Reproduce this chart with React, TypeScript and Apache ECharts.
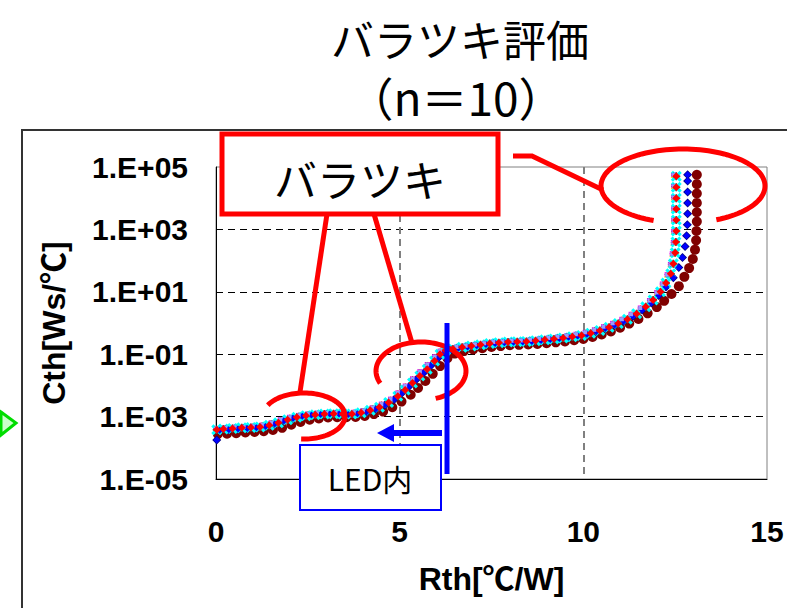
import React, { useEffect, useRef } from 'react';
import * as echarts from 'echarts';

// ---- Data ----
// Each point: [Rth (°C/W), exponent of Cth (log10 of Ws/°C)]
const xTickValues = [0, 5, 10, 15];
const yTickExponents = [-5, -3, -1, 1, 3, 5];
const seriesNames = ['No.1', 'No.2', 'No.3', 'No.4', 'No.5', 'No.6', 'No.7', 'No.8', 'No.9', 'No.10'];

const redPts: [number, number][] = [
  [0.02, -3.42], [0.2, -3.4], [0.45, -3.38], [0.7, -3.36], [0.95, -3.35], [1.2, -3.33], [1.45, -3.28],
  [1.7, -3.2], [1.95, -3.1], [2.2, -3.02], [2.45, -2.97], [2.7, -2.94], [2.95, -2.92], [3.2, -2.91],
  [3.45, -2.92], [3.7, -2.92], [3.95, -2.88], [4.2, -2.8], [4.45, -2.7], [4.7, -2.55], [4.95, -2.35],
  [5.15, -2.15], [5.35, -1.92], [5.55, -1.7], [5.75, -1.48], [5.95, -1.22], [6.1, -1.0], [6.25, -0.88],
  [6.45, -0.83], [6.7, -0.78], [6.95, -0.74], [7.2, -0.7], [7.45, -0.66], [7.7, -0.63], [7.95, -0.61],
  [8.2, -0.6], [8.45, -0.59], [8.7, -0.57], [8.95, -0.54], [9.2, -0.51], [9.45, -0.48], [9.7, -0.44],
  [9.95, -0.4], [10.2, -0.33], [10.45, -0.24], [10.7, -0.14], [10.95, -0.02], [11.2, 0.12], [11.45, 0.3],
  [11.7, 0.52], [11.9, 0.74], [12.1, 1.0], [12.25, 1.28], [12.38, 1.58], [12.45, 1.9], [12.5, 2.25],
  [12.52, 2.6], [12.53, 2.95], [12.53, 3.3], [12.53, 3.65], [12.53, 4.0], [12.53, 4.35], [12.53, 4.7],
];

const upperPts: [number, number][] = [
  [0.0, -3.38], [0.25, -3.36], [0.5, -3.34], [0.75, -3.33], [1.0, -3.31], [1.25, -3.27], [1.5, -3.2],
  [1.75, -3.1], [2.0, -3.02], [2.25, -2.96], [2.5, -2.92], [2.75, -2.89], [3.0, -2.88], [3.25, -2.88],
  [3.5, -2.88], [3.75, -2.86], [4.0, -2.81], [4.25, -2.72], [4.5, -2.6], [4.75, -2.44], [4.95, -2.24],
  [5.15, -2.02], [5.35, -1.79], [5.55, -1.56], [5.75, -1.33], [5.95, -1.08], [6.1, -0.9], [6.3, -0.82],
  [6.55, -0.77], [6.8, -0.73], [7.05, -0.69], [7.3, -0.65], [7.55, -0.61], [7.8, -0.59], [8.05, -0.57],
  [8.3, -0.56], [8.55, -0.54], [8.8, -0.51], [9.05, -0.48], [9.3, -0.45], [9.55, -0.41], [9.8, -0.36],
  [10.05, -0.3], [10.3, -0.22], [10.55, -0.12], [10.8, -0.01], [11.05, 0.12], [11.3, 0.28], [11.55, 0.48],
  [11.8, 0.72], [12.0, 0.98], [12.15, 1.25], [12.28, 1.55], [12.37, 1.88], [12.42, 2.22], [12.45, 2.58],
  [12.46, 2.94], [12.46, 3.3], [12.46, 3.66], [12.46, 4.02], [12.46, 4.38], [12.46, 4.74],
];

const navyPts: [number, number][] = [
  [0.02, -3.75], [0.1, -3.44], [0.35, -3.42], [0.6, -3.4], [0.85, -3.38], [1.1, -3.36], [1.35, -3.32],
  [1.6, -3.24], [1.85, -3.14], [2.1, -3.05], [2.35, -2.99], [2.6, -2.95], [2.85, -2.93], [3.1, -2.92],
  [3.35, -2.92], [3.6, -2.93], [3.85, -2.91], [4.1, -2.85], [4.35, -2.76], [4.6, -2.63], [4.85, -2.45],
  [5.05, -2.26], [5.25, -2.04], [5.45, -1.82], [5.65, -1.6], [5.85, -1.37], [6.05, -1.12], [6.2, -0.95],
  [6.4, -0.86], [6.6, -0.81], [6.85, -0.77], [7.1, -0.73], [7.35, -0.69], [7.6, -0.66], [7.85, -0.63],
  [8.1, -0.62], [8.35, -0.61], [8.6, -0.59], [8.85, -0.56], [9.1, -0.53], [9.35, -0.5], [9.6, -0.46],
  [9.85, -0.42], [10.1, -0.36], [10.35, -0.28], [10.6, -0.18], [10.85, -0.07], [11.1, 0.06], [11.35, 0.22],
  [11.6, 0.42], [11.85, 0.64], [12.05, 0.88], [12.25, 1.15], [12.45, 1.45], [12.6, 1.78], [12.7, 2.1],
  [12.77, 2.45], [12.81, 2.8], [12.83, 3.15], [12.84, 3.5], [12.84, 3.85], [12.84, 4.2], [12.84, 4.55],
  [12.84, 4.75],
];

const maroonPts: [number, number][] = [
  [0.05, -3.56], [0.3, -3.55], [0.55, -3.53], [0.8, -3.51], [1.05, -3.49], [1.3, -3.47], [1.55, -3.43],
  [1.8, -3.36], [2.05, -3.26], [2.3, -3.17], [2.55, -3.1], [2.8, -3.06], [3.05, -3.03], [3.3, -3.02],
  [3.55, -3.02], [3.8, -3.01], [4.05, -2.98], [4.3, -2.92], [4.55, -2.84], [4.8, -2.7], [5.05, -2.52],
  [5.3, -2.3], [5.5, -2.08], [5.7, -1.86], [5.9, -1.63], [6.1, -1.38], [6.3, -1.13], [6.5, -0.98],
  [6.75, -0.9], [7.0, -0.85], [7.25, -0.81], [7.5, -0.77], [7.75, -0.74], [8.0, -0.71], [8.25, -0.7],
  [8.5, -0.69], [8.75, -0.67], [9.0, -0.65], [9.25, -0.62], [9.5, -0.59], [9.75, -0.55], [10.0, -0.51],
  [10.25, -0.45], [10.5, -0.37], [10.75, -0.27], [11.0, -0.15], [11.25, -0.02], [11.5, 0.13], [11.75, 0.31],
  [12.0, 0.51], [12.2, 0.71], [12.4, 0.93], [12.6, 1.18], [12.75, 1.48], [12.88, 1.76], [12.98, 2.05],
  [13.04, 2.35], [13.07, 2.65], [13.08, 2.95], [13.09, 3.25], [13.09, 3.55], [13.09, 3.85], [13.09, 4.15],
  [13.09, 4.45], [13.09, 4.75],
];

// drawing order: first drawn lies at the bottom
const seriesData = [maroonPts, navyPts, upperPts, upperPts, redPts, upperPts, redPts, navyPts, upperPts, redPts];
const seriesColors = ['#800000', '#000080', '#FF00FF', '#FFFF00', '#00FFFF', '#800080', '#008080', '#0000FF', '#9999FF', '#FF0000'];

const SYM_X = 'path://M2,0L5,3L8,0L10,2L7,5L10,8L8,10L5,7L2,10L0,8L3,5L0,2Z';
const SYM_STAR = 'path://M4.2,0h1.6v3.6l2.6-2.6 1.1,1.1-2.6,2.6H10v1.6H6.9l2.6,2.6-1.1,1.1-2.6-2.6V10H4.2V6.9L1.6,9.5 0.5,8.4 3.1,5.8H0V4.2h3.1L0.5,1.6 1.6,0.5 4.2,3.1Z';
const SYM_PLUS = 'path://M4,0h2v4h4v2h-4v4h-2v-4h-4v-2h4z';
const seriesSymbols = ['circle', 'diamond', 'rect', 'triangle', SYM_X, SYM_STAR, SYM_PLUS, 'diamond', 'rect', 'diamond'];
const seriesSizes = [10, 9, 5, 6, 11, 5, 8, 7, 4, 8];

function arcPoints(cx: number, cy: number, rx: number, ry: number, a0: number, a1: number) {
  const pts: number[][] = [];
  for (let a = a0; a <= a1; a += 3) {
    const r = (a * Math.PI) / 180;
    pts.push([cx + rx * Math.cos(r), cy + ry * Math.sin(r)]);
  }
  return pts;
}

export default function App() {
  const ref = useRef<HTMLDivElement>(null);

  useEffect(() => {
    document.body.style.margin = '0';
    if (!ref.current) return;
    const chart = echarts.init(ref.current, undefined, { renderer: 'svg' });
    const labelFont = 'Arial, "Liberation Sans", "Noto Sans CJK JP", sans-serif';
    const jpFont = '"Noto Sans CJK JP", sans-serif';
    const red = '#FF0000';
    const blue = '#0000FF';

    const option: any = {
      animation: false,
      backgroundColor: '#fff',
      grid: { left: 216, right: 20, top: 167, bottom: 129, show: true, borderColor: '#808080', borderWidth: 1 },
      xAxis: {
        type: 'value',
        min: xTickValues[0],
        max: xTickValues[xTickValues.length - 1],
        interval: 5,
        name: 'Rth[℃/W]',
        nameLocation: 'middle',
        nameGap: 84,
        nameTextStyle: { fontFamily: labelFont, fontWeight: 'bold', fontSize: 32, color: '#000' },
        axisLine: { lineStyle: { color: '#000', width: 1 } },
        axisTick: { show: false },
        axisLabel: { margin: 37, fontFamily: labelFont, fontWeight: 'bold', fontSize: 30, color: '#000' },
        splitLine: { show: true, showMinLine: false, showMaxLine: false, lineStyle: { color: '#808080', width: 2, type: [7, 5] } },
      },
      yAxis: {
        type: 'log',
        logBase: 10,
        min: Math.pow(10, yTickExponents[0]),
        max: Math.pow(10, yTickExponents[yTickExponents.length - 1]),
        interval: 2,
        name: 'Cth[Ws/℃]',
        nameLocation: 'middle',
        nameGap: 146,
        nameRotate: 90,
        nameTextStyle: { fontFamily: labelFont, fontWeight: 'bold', fontSize: 32, color: '#000' },
        axisLine: { show: true, lineStyle: { color: '#000', width: 1 } },
        axisTick: { show: false },
        axisLabel: {
          margin: 28,
          fontFamily: labelFont,
          fontWeight: 'bold',
          fontSize: 30,
          color: '#000',
          formatter: (v: number) => {
            const e = Math.round(Math.log10(v));
            return '1.E' + (e >= 0 ? '+' : '-') + String(Math.abs(e)).padStart(2, '0');
          },
        },
        splitLine: { show: true, showMinLine: false, showMaxLine: false, lineStyle: { color: '#000', width: 1, type: [7, 5] } },
      },
      series: seriesData.map((pts, i) => ({
        name: seriesNames[i],
        type: 'scatter',
        symbol: seriesSymbols[i],
        symbolSize: seriesSizes[i],
        itemStyle: { color: seriesColors[i], opacity: 1 },
        data: pts.map(([r, e]) => [r, Math.pow(10, e)]),
        z: 2 + i,
      })),
      graphic: [
        // outer frame
        { type: 'polyline', shape: { points: [[22, 608], [22, 130], [787, 130]] }, style: { stroke: '#333', lineWidth: 2, fill: null }, z: 1 },
        // green marker at left
        { type: 'polygon', shape: { points: [[1, 412], [16, 423], [1, 435]] }, style: { fill: '#CCFFCC', stroke: '#00DD00', lineWidth: 3 }, z: 20 },
        // titles
        { type: 'text', x: 460, y: 38, style: { text: 'バラツキ評価', font: `43px ${jpFont}`, lineHeight: 44, fill: '#000', textAlign: 'center', textVerticalAlign: 'middle' }, z: 20 },
        { type: 'text', x: 456, y: 96, style: { text: '（n＝10）', font: `46px ${jpFont}`, lineHeight: 46, fill: '#000', textAlign: 'center', textVerticalAlign: 'middle' }, z: 20 },
        // red callout lines
        { type: 'polyline', shape: { points: [[513, 156], [532, 156], [603, 190]] }, style: { stroke: red, lineWidth: 5, fill: null }, z: 30 },
        { type: 'line', shape: { x1: 327, y1: 214, x2: 300, y2: 392 }, style: { stroke: red, lineWidth: 5 }, z: 30 },
        { type: 'line', shape: { x1: 374, y1: 214, x2: 412, y2: 343 }, style: { stroke: red, lineWidth: 5 }, z: 30 },
        // red open ellipses
        { type: 'polyline', shape: { points: arcPoints(683, 186, 82, 37, 111, 426) }, style: { stroke: red, lineWidth: 5, fill: null }, z: 30 },
        { type: 'polyline', shape: { points: arcPoints(421, 371, 45, 29, 155, 432) }, style: { stroke: red, lineWidth: 5, fill: null }, z: 30 },
        { type: 'polyline', shape: { points: arcPoints(304, 416, 41, 23, 208, 455) }, style: { stroke: red, lineWidth: 5, fill: null }, z: 30 },
        // red box
        { type: 'rect', shape: { x: 222, y: 134, width: 276, height: 80 }, style: { fill: '#fff', stroke: red, lineWidth: 5 }, z: 31 },
        { type: 'text', x: 360, y: 178, style: { text: 'バラツキ', font: `43px ${jpFont}`, fill: '#000', textAlign: 'center', textVerticalAlign: 'middle' }, z: 32 },
        // blue vertical line and arrow
        { type: 'line', shape: { x1: 447, y1: 323, x2: 447, y2: 474 }, style: { stroke: blue, lineWidth: 5 }, z: 30 },
        { type: 'rect', shape: { x: 392, y: 430, width: 50, height: 6 }, style: { fill: blue }, z: 30 },
        { type: 'polygon', shape: { points: [[377, 433], [394, 424], [394, 442]] }, style: { fill: blue }, z: 30 },
        // LED box
        { type: 'rect', shape: { x: 300, y: 445, width: 141, height: 65 }, style: { fill: '#fff', stroke: blue, lineWidth: 2 }, z: 31 },
        { type: 'text', x: 370, y: 478, style: { text: 'LED内', font: `30px ${jpFont}`, fill: '#000', textAlign: 'center', textVerticalAlign: 'middle' }, z: 32 },
      ],
    };
    chart.setOption(option);
    return () => chart.dispose();
  }, []);

  return <div ref={ref} style={{ width: 787, height: 608 }} />;
}
